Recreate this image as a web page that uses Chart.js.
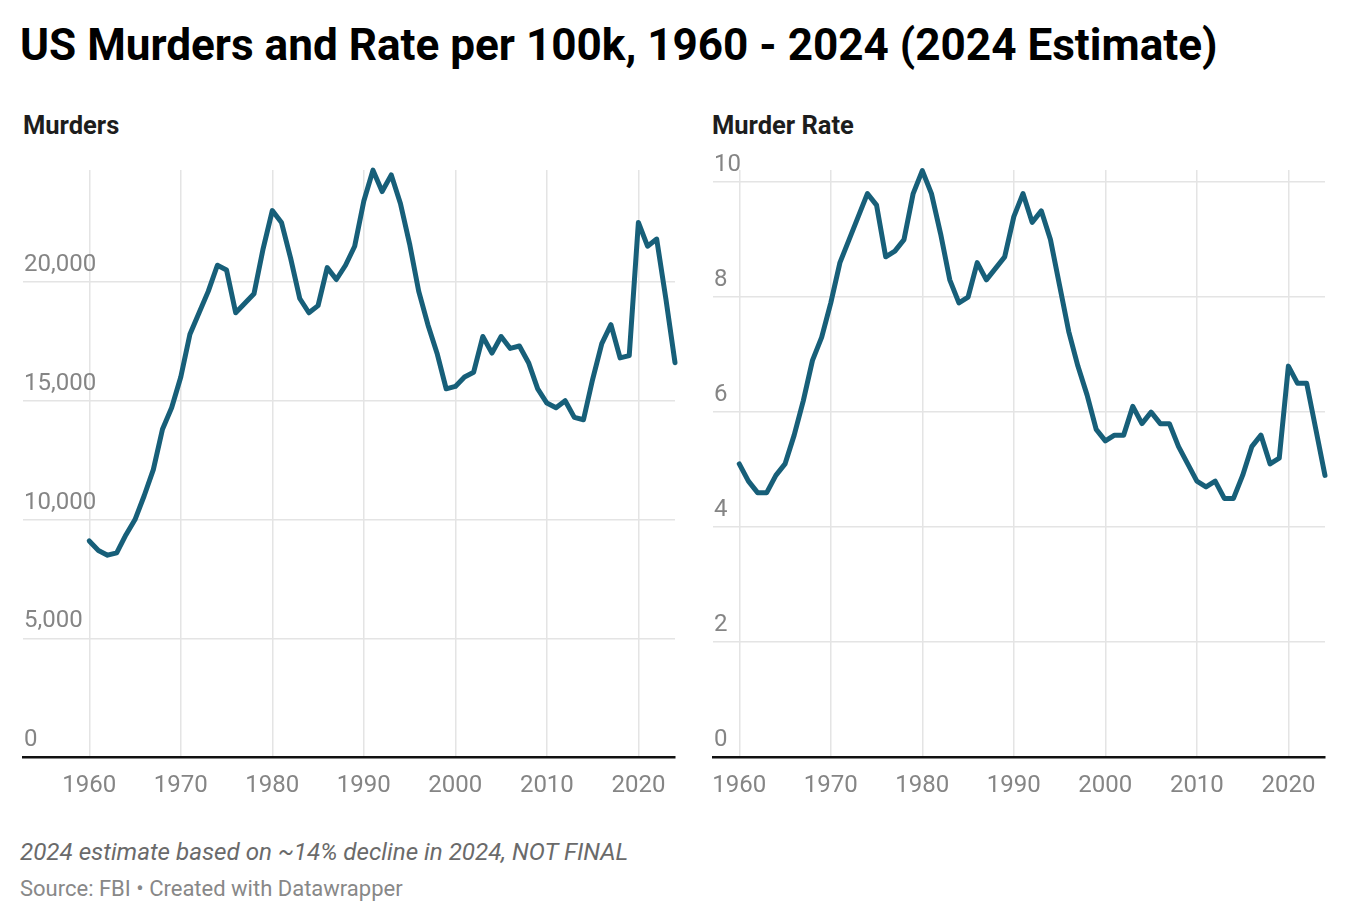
<!DOCTYPE html>
<html>
<head>
<meta charset="utf-8">
<script src="https://cdn.jsdelivr.net/npm/chart.js@4.4.1/dist/chart.umd.min.js"></script>
<style>
  html, body { margin:0; padding:0; background:#fff; }
  body { width:1348px; height:922px; position:relative; overflow:hidden; font-family: Roboto, "Noto Sans", sans-serif; }
  #title { position:absolute; left:20px; top:19px; font-size:44.1px; font-weight:700; color:#000; white-space:nowrap; line-height:52px; }
  .sub { position:absolute; top:110px; font-size:25.5px; font-weight:700; color:#1d1d1d; white-space:nowrap; line-height:30px; }
  .box { position:absolute; top:150px; height:665px; }
  #note { position:absolute; left:20px; top:837px; font-size:24.2px; font-style:italic; color:#6a6a6a; white-space:nowrap; line-height:30px; }
  #source { position:absolute; left:20px; top:875px; font-size:22px; color:#888; white-space:nowrap; line-height:28px; }
</style>
</head>
<body>
<div id="title">US Murders and Rate per 100k, 1960 - 2024 (2024 Estimate)</div>
<div class="sub" style="left:23px;">Murders</div>
<div class="sub" style="left:712px;">Murder Rate</div>
<div class="box" style="left:0px; width:690px;"><canvas id="c1"></canvas></div>
<div class="box" style="left:690px; width:658px;"><canvas id="c2"></canvas></div>
<div id="note">2024 estimate based on ~14% decline in 2024, NOT FINAL</div>
<div id="source">Source: FBI • Created with Datawrapper</div>
<script>
// ---- data ----
const years = [1960,1961,1962,1963,1964,1965,1966,1967,1968,1969,
  1970,1971,1972,1973,1974,1975,1976,1977,1978,1979,
  1980,1981,1982,1983,1984,1985,1986,1987,1988,1989,
  1990,1991,1992,1993,1994,1995,1996,1997,1998,1999,
  2000,2001,2002,2003,2004,2005,2006,2007,2008,2009,
  2010,2011,2012,2013,2014,2015,2016,2017,2018,2019,
  2020,2021,2022,2023,2024];
const murders = [9100,8700,8500,8600,9350,10000,11000,12100,13800,14700,
  16000,17800,18700,19600,20700,20500,18700,19100,19500,21400,
  23000,22500,21000,19300,18700,19000,20600,20100,20700,21500,
  23400,24700,23800,24500,23300,21600,19600,18200,17000,15500,
  15600,16000,16200,17700,17000,17700,17200,17300,16600,15500,
  14900,14700,15000,14300,14200,15900,17400,18200,16800,16900,
  22500,21500,21800,19300,16600];
const murderRate = [5.1,4.8,4.6,4.6,4.9,5.1,5.6,6.2,6.9,7.3,
  7.9,8.6,9.0,9.4,9.8,9.6,8.7,8.8,9.0,9.8,
  10.2,9.8,9.1,8.3,7.9,8.0,8.6,8.3,8.5,8.7,
  9.4,9.8,9.3,9.5,9.0,8.2,7.4,6.8,6.3,5.7,
  5.5,5.6,5.6,6.1,5.8,6.0,5.8,5.8,5.4,5.1,
  4.8,4.7,4.8,4.5,4.5,4.9,5.4,5.6,5.1,5.2,
  6.8,6.5,6.5,5.7,4.9];
const xTicks = [1960,1970,1980,1990,2000,2010,2020];
const murderTicks = [0,5000,10000,15000,20000];
const rateTicks = [0,2,4,6,8,10];

const LINE = '#175f79';
const GRID = '#e4e4e4';
const TICK = '#858585';
const FONT = 'Roboto';

function makeChart(id, values, yTicks, xMin, yMax, pad, fmt) {
  return new Chart(document.getElementById(id), {
    type: 'line',
    data: {
      datasets: [{
        data: years.map((y, i) => ({x: y, y: values[i]})),
        borderColor: LINE,
        borderWidth: 5,
        pointRadius: 0,
        tension: 0,
        borderJoinStyle: 'round',
        borderCapStyle: 'round',
        clip: false
      }]
    },
    options: {
      responsive: true,
      maintainAspectRatio: false,
      animation: false,
      events: [],
      layout: { padding: pad },
      plugins: { legend: {display:false}, tooltip: {enabled:false} },
      scales: {
        x: {
          type: 'linear',
          min: xMin,
          max: 2024,
          afterBuildTicks: s => { s.ticks = xTicks.map(v => ({value: v})); },
          grid: { color: GRID, lineWidth: 1.5, drawTicks: false },
          border: { display: true, color: '#111', width: 2.5 },
          ticks: { color: TICK, font: {family: FONT, size: 24}, padding: 14, callback: v => String(v), maxRotation: 0 }
        },
        y: {
          type: 'linear',
          min: 0,
          max: yMax,
          afterBuildTicks: s => { s.ticks = yTicks.map(v => ({value: v})); },
          grid: { color: GRID, lineWidth: 1.5, drawTicks: false },
          border: { display: false },
          ticks: { color: TICK, font: {family: FONT, size: 24}, mirror: true, padding: 1, labelOffset: -17, callback: fmt }
        }
      }
    }
  });
}

makeChart('c1', murders, murderTicks, 1952.76, 24707,
  {left: 21, right: 15, top: 20, bottom: 1},
  v => v.toLocaleString('en-US'));
makeChart('c2', murderRate, rateTicks, 1957.13, 10.21,
  {left: 21, right: 23, top: 20, bottom: 1},
  v => String(v));
</script>
</body>
</html>
